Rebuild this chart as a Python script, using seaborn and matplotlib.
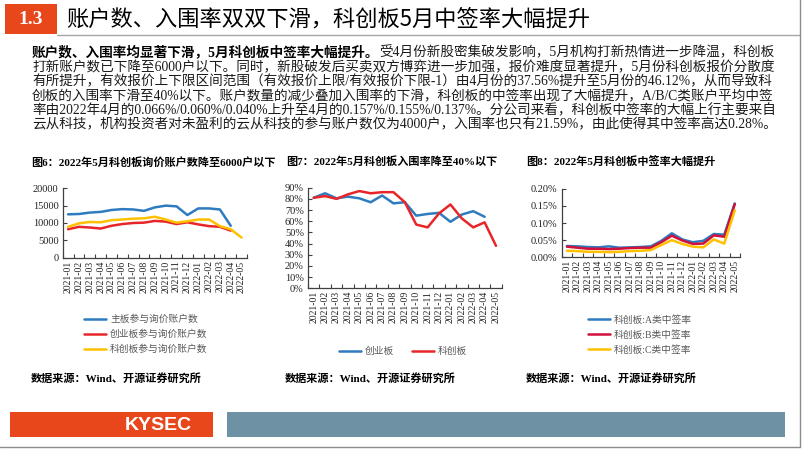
import numpy as np
import pandas as pd
import matplotlib
matplotlib.use("Agg")
import matplotlib.pyplot as plt
import seaborn as sns
from matplotlib.patches import Rectangle
from matplotlib.lines import Line2D

# ---------------- data ----------------
months = ["2021-01", "2021-02", "2021-03", "2021-04", "2021-05", "2021-06",
          "2021-07", "2021-08", "2021-09", "2021-10", "2021-11", "2021-12",
          "2022-01", "2022-02", "2022-03", "2022-04", "2022-05"]

# Fig 6: accounts participating in inquiry
main_accounts = [12500, 12600, 13000, 13200, 13750, 14000, 13900, 13500, 14500,
                 15000, 14800, 12300, 14200, 14200, 13900, 9200, np.nan]
chinext_accounts = [8200, 8900, 8700, 8400, 9200, 9700, 10000, 10100, 10600,
                    10400, 9700, 10200, 9600, 9100, 8900, 7800, np.nan]
star_accounts = [8900, 9900, 10300, 10200, 10800, 11000, 11250, 11350, 11800,
                 11000, 10100, 10500, 11000, 11000, 9100, 8200, 5800]
fig6_labels = ["主板参与询价账户数", "创业板参与询价账户数", "科创板参与询价账户数"]

# Fig 7: inclusion rate (%)
chinext_rate = [81, 85, 80.5, 82, 80.5, 77, 83, 76, 77, 65, 66.5, 67.5, 59.5,
                66, 69, 64, np.nan]
star_rate = [81, 82.5, 80, 84, 87, 85, 86, 86, 77, 57, 54.5, 67, 75, 62.5,
             54.5, 59, 38]
fig7_labels = ["创业板", "科创板"]

# Fig 8: winning rate (%)
rate_a = [0.033, 0.032, 0.030, 0.029, 0.032, 0.028, 0.029, 0.030, 0.032, 0.048,
          0.070, 0.052, 0.044, 0.048, 0.068, 0.066, 0.157]
rate_b = [0.031, 0.028, 0.025, 0.025, 0.024, 0.025, 0.027, 0.028, 0.028, 0.044,
          0.063, 0.049, 0.039, 0.040, 0.064, 0.060, 0.155]
rate_c = [0.019, 0.018, 0.016, 0.016, 0.015, 0.016, 0.018, 0.019, 0.021, 0.036,
          0.050, 0.039, 0.031, 0.029, 0.052, 0.040, 0.137]
fig8_labels = ["科创板:A类中签率", "科创板:B类中签率", "科创板:C类中签率"]

header_no = "1.3"
header_title = "账户数、入围率双双下滑，科创板5月中签率大幅提升"
para_bold = "账户数、入围率均显著下滑，5月科创板中签率大幅提升。"
para_lines = [
    "受4月份新股密集破发影响，5月机构打新热情进一步降温，科创板",
    "打新账户数已下降至6000户以下。同时，新股破发后买卖双方博弈进一步加强，报价难度显著提升，5月份科创板报价分散度",
    "有所提升，有效报价上下限区间范围（有效报价上限/有效报价下限-1）由4月份的37.56%提升至5月份的46.12%，从而导致科",
    "创板的入围率下滑至40%以下。账户数量的减少叠加入围率的下滑，科创板的中签率出现了大幅提升，A/B/C类账户平均中签",
    "率由2022年4月的0.066%/0.060%/0.040%上升至4月的0.157%/0.155%/0.137%。分公司来看，科创板中签率的大幅上行主要来自",
    "云从科技，机构投资者对未盈利的云从科技的参与账户数仅为4000户，入围率也只有21.59%，由此使得其中签率高达0.28%。",
]
chart_titles = ["图6：2022年5月科创板询价账户数降至6000户以下",
                "图7：2022年5月科创板入围率降至40%以下",
                "图8：2022年5月科创板中签率大幅提升"]
source_text = "数据来源：Wind、开源证券研究所"
footer_text = "KYSEC"

# ---------------- style ----------------
sns.set_theme(style="white")
CJK = ["Noto Sans CJK SC", "DejaVu Sans"]
MIX = ["Liberation Serif", "Noto Sans CJK SC", "DejaVu Sans"]
SERIF = ["Liberation Serif", "DejaVu Serif"]
plt.rcParams["font.family"] = CJK
plt.rcParams["axes.unicode_minus"] = False

BLUE = "#2E7BC0"
RED = "#E8262A"
YELLOW = "#FFC000"
ORANGE = "#E8471B"
AXC = "#404040"

W, H = 802, 451
fig = plt.figure(figsize=(W / 100, H / 100), dpi=100)
fig.patch.set_facecolor("white")


def fx(x):
    return x / W


def fy(y):
    return 1 - y / H


def px_axes(x0, y0, x1, y1):
    return fig.add_axes([fx(x0), fy(y1), (x1 - x0) / W, (y1 - y0) / H])


# ---------------- header ----------------
fig.add_artist(Rectangle((fx(5), fy(34)), (57 - 5) / W, 30 / H,
                         transform=fig.transFigure, color=ORANGE, lw=0))
fig.text(fx(31), fy(19.5), header_no, color="white", fontsize=14,
         fontweight="bold", family=SERIF, ha="center", va="center")
fig.text(fx(66), fy(19), header_title, color="black", fontsize=16,
         ha="left", va="center")
fig.add_artist(Line2D([fx(57), fx(800)], [fy(34.5), fy(34.5)],
                      transform=fig.transFigure, color="#A6A6A6", lw=1))

# ---------------- paragraph ----------------
renderer = fig.canvas.get_renderer()
PFS = 9.8
y0 = 53
t = fig.text(fx(32), fy(y0), para_bold, fontsize=PFS, fontweight="bold",
             color="black", ha="left", va="center", family=MIX)
bb = t.get_window_extent(renderer=renderer)
fig.text(bb.x1 / W, fy(y0), para_lines[0], fontsize=PFS, color="#1a1a1a",
         ha="left", va="center", family=MIX)
for i, line in enumerate(para_lines[1:], start=1):
    fig.text(fx(32), fy(y0 + i * 14.4), line, fontsize=PFS, color="#1a1a1a",
             ha="left", va="center", family=MIX)

# ---------------- chart titles & sources ----------------
for x, ttl in zip([31, 286, 526], chart_titles):
    fig.text(fx(x), fy(162), ttl, fontsize=8, fontweight="bold",
             color="black", ha="left", va="center", family=MIX)
for x in [31, 285, 526]:
    fig.text(fx(x), fy(378), source_text, fontsize=8, fontweight="bold",
             color="black", ha="left", va="center", family=MIX)


def style_axes(ax):
    sns.despine(ax=ax)
    for s in ["left", "bottom"]:
        ax.spines[s].set_color(AXC)
        ax.spines[s].set_linewidth(0.9)
    ax.set_xlim(-0.5, 16.5)
    ax.set_xticks(range(len(months)))
    ax.set_xticklabels(months, rotation=90, family=SERIF, fontsize=7,
                       color="#222222")
    ax.set_xticks(np.arange(-0.5, 17, 1), minor=True)
    ax.tick_params(axis="x", which="major", length=0, pad=2)
    ax.tick_params(axis="x", which="minor", length=3, direction="in",
                   color=AXC, width=0.8, bottom=True)
    ax.tick_params(axis="y", length=3, direction="in", color=AXC, width=0.8,
                   labelsize=7.5, pad=3, left=True)
    for lab in ax.get_yticklabels():
        lab.set_family(SERIF)
        lab.set_color("#222222")
    ax.set_xlabel("")
    ax.set_ylabel("")
    ax.grid(False)
    ax.patch.set_alpha(0)


def long_df(series, labels):
    frames = []
    for vals, lab in zip(series, labels):
        frames.append(pd.DataFrame({"idx": np.arange(len(months)),
                                    "value": vals, "series": lab}))
    return pd.concat(frames, ignore_index=True)


LEG = dict(bbox_transform=fig.transFigure, frameon=False,
           handlelength=2.3, handletextpad=0.4, borderpad=0,
           labelcolor="#595959", prop={"family": MIX, "size": 7})

# ---------------- Fig 6 ----------------
ax1 = px_axes(62.7, 188.3, 247, 257.7)
df1 = long_df([main_accounts, chinext_accounts, star_accounts], fig6_labels)
sns.lineplot(data=df1, x="idx", y="value", hue="series", hue_order=fig6_labels,
             palette=[BLUE, RED, YELLOW], linewidth=1.8, ax=ax1)
ax1.set_ylim(0, 20000)
ax1.set_yticks([0, 5000, 10000, 15000, 20000])
ax1.set_yticklabels(["0", "5000", "10000", "15000", "20000"])
style_axes(ax1)
ax1.legend(loc="upper left", bbox_to_anchor=(fx(79), fy(310)),
           labelspacing=0.55, **LEG)

# ---------------- Fig 7 ----------------
ax2 = px_axes(308, 187.7, 501.7, 288.3)
df2 = long_df([chinext_rate, star_rate], fig7_labels)
sns.lineplot(data=df2, x="idx", y="value", hue="series", hue_order=fig7_labels,
             palette=[BLUE, RED], linewidth=1.8, ax=ax2)
ax2.set_ylim(0, 90)
ax2.set_yticks(range(0, 91, 10))
ax2.set_yticklabels([f"{v}%" for v in range(0, 91, 10)])
style_axes(ax2)
ax2.legend(loc="upper left", bbox_to_anchor=(fx(334), fy(342)),
           ncol=2, columnspacing=1.8, **LEG)

# ---------------- Fig 8 ----------------
ax3 = px_axes(561.7, 188.7, 740, 257.3)
df3 = long_df([rate_a, rate_b, rate_c], fig8_labels)
sns.lineplot(data=df3, x="idx", y="value", hue="series", hue_order=fig8_labels,
             palette=[BLUE, "#D0103A", YELLOW], linewidth=1.8, ax=ax3)
ax3.set_ylim(0, 0.20)
ax3.set_yticks([0, 0.05, 0.10, 0.15, 0.20])
ax3.set_yticklabels(["0.00%", "0.05%", "0.10%", "0.15%", "0.20%"])
style_axes(ax3)
ax3.legend(loc="upper left", bbox_to_anchor=(fx(583), fy(310)),
           labelspacing=0.55, **LEG)

# ---------------- footer ----------------
fig.add_artist(Rectangle((fx(10), fy(437)), (213 - 10) / W, 25 / H,
                         transform=fig.transFigure, color=ORANGE, lw=0))
fig.add_artist(Rectangle((fx(227), fy(437)), (785 - 227) / W, 25 / H,
                         transform=fig.transFigure, color="#6F91A4", lw=0))
fig.text(fx(192), fy(425), footer_text, color="white", fontsize=14,
         fontweight="bold", family=["Liberation Sans", "DejaVu Sans"],
         ha="right", va="center")
fig.add_artist(Line2D([fx(799.5), fx(799.5)], [fy(0), fy(447)],
                      transform=fig.transFigure, color="#8C8C8C", lw=1))
fig.add_artist(Line2D([fx(0), fx(800)], [fy(447), fy(447)],
                      transform=fig.transFigure, color="#8C8C8C", lw=1))

fig.savefig("out.png", dpi=100)
